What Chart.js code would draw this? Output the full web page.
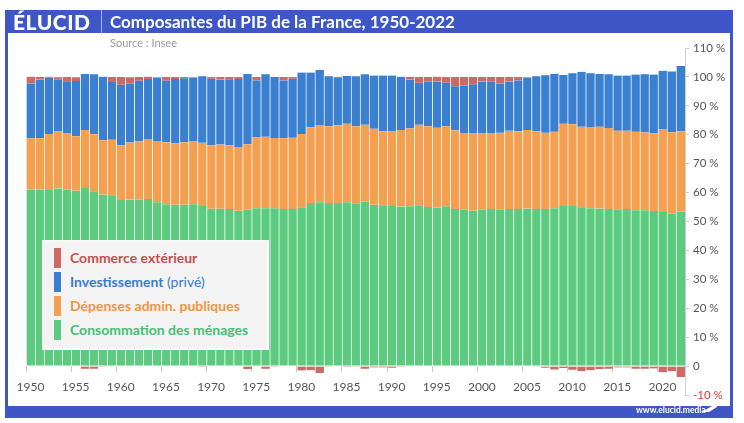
<!DOCTYPE html>
<html>
<head>
<meta charset="utf-8">
<script src="https://cdn.jsdelivr.net/npm/chart.js@4/dist/chart.umd.min.js"></script>
<style>
  body { margin: 0; width: 744px; height: 423px; background: #fff; font-family: Lato, "Open Sans", sans-serif; overflow: hidden; }
  #frame { position: absolute; left: 5px; top: 10px; width: 728px; height: 408px; background: #3f56c6; }
  #inner { position: absolute; left: 8px; top: 33px; width: 722px; height: 373px; background: #fff; }
  #chart { position: absolute; left: 8px; top: 33px; }
  #logo { position: absolute; left: 13px; top: 9px; color: #fff; font-weight: 900; font-size: 21px; letter-spacing: 0.5px; }
  #divider { position: absolute; left: 101px; top: 10px; width: 1px; height: 23px; background: rgba(255,255,255,0.55); }
  #title { position: absolute; left: 110px; top: 11px; color: #fff; font-weight: 700; font-size: 17px; }
  #source { position: absolute; left: 110px; top: 36px; color: #9a9a9a; font-size: 11px; }
  #legend { position: absolute; left: 42px; top: 240px; width: 223px; height: 106px; background: #f3f3f3; border: 2px solid #fbfbfb; }
  .row { position: absolute; left: 10px; height: 20px; line-height: 20px; font-size: 14px; font-weight: 700; white-space: nowrap; }
  .row i { display: inline-block; width: 7px; height: 20px; vertical-align: top; margin-right: 9px; }
  .row span.light { font-weight: 400; }
  #site { position: absolute; left: 636px; top: 405px; color: #fff; font-size: 8.5px; font-weight: 700; }
  #mark { position: absolute; left: 0; top: 0; }
</style>
</head>
<body>
<div id="frame"></div>
<div id="inner"></div>
<canvas id="chart" width="722" height="373"></canvas>
<div id="logo">ÉLUCID</div>
<div id="divider"></div>
<div id="title">Composantes du PIB de la France, 1950-2022</div>
<div id="source">Source : Insee</div>
<div id="legend">
  <div class="row" style="top:6px;color:#c4504e"><i style="background:#cd6a66"></i>Commerce extérieur</div>
  <div class="row" style="top:30px;color:#3a7bd0"><i style="background:#3a7fd0"></i>Investissement <span class="light">(privé)</span></div>
  <div class="row" style="top:54px;color:#f0953f"><i style="background:#f4a050"></i>Dépenses admin. publiques</div>
  <div class="row" style="top:78px;color:#45bf73"><i style="background:#5ccb7f"></i>Consommation des ménages</div>
</div>
<div id="site">www.elucid.media</div>
<svg id="mark" width="744" height="423"><polygon points="702,412 717,403 717,407 709,412" fill="#fff"/></svg>
<script>
const years = [1950, 1951, 1952, 1953, 1954, 1955, 1956, 1957, 1958, 1959,
  1960, 1961, 1962, 1963, 1964, 1965, 1966, 1967, 1968, 1969,
  1970, 1971, 1972, 1973, 1974, 1975, 1976, 1977, 1978, 1979,
  1980, 1981, 1982, 1983, 1984, 1985, 1986, 1987, 1988, 1989,
  1990, 1991, 1992, 1993, 1994, 1995, 1996, 1997, 1998, 1999,
  2000, 2001, 2002, 2003, 2004, 2005, 2006, 2007, 2008, 2009,
  2010, 2011, 2012, 2013, 2014, 2015, 2016, 2017, 2018, 2019,
  2020, 2021, 2022];

// % du PIB
const consommation = [61.1, 61.1, 60.9, 61.4, 61.0, 60.6, 61.6, 60.5, 59.3, 58.8,
  57.4, 57.6, 57.5, 57.8, 56.7, 56.0, 55.8, 55.8, 56.0, 55.4,
  54.4, 54.4, 54.3, 53.7, 54.1, 54.6, 54.6, 54.6, 54.3, 54.3,
  54.9, 56.4, 56.7, 56.4, 56.4, 56.7, 56.3, 56.8, 55.8, 55.6,
  55.4, 55.2, 55.3, 55.6, 55.0, 54.8, 55.3, 54.3, 54.1, 53.7,
  54.1, 54.3, 54.1, 54.3, 54.3, 54.5, 54.3, 54.3, 54.6, 55.4,
  55.4, 54.9, 54.6, 54.5, 54.3, 54.2, 54.3, 53.9, 53.9, 53.6,
  53.3, 52.7, 53.5];

const depenses = [17.7, 17.7, 19.4, 19.7, 19.4, 18.9, 20.0, 19.7, 18.8, 19.5,
  18.9, 19.7, 20.2, 20.7, 21.1, 21.4, 21.2, 21.6, 21.8, 21.8,
  22.0, 22.2, 22.0, 22.1, 22.6, 24.5, 24.7, 24.3, 24.5, 24.7,
  25.4, 26.1, 26.7, 26.5, 26.8, 27.1, 26.6, 26.7, 26.3, 25.6,
  25.7, 26.4, 26.9, 27.9, 27.9, 27.6, 27.6, 27.2, 26.5, 26.7,
  26.3, 26.1, 26.6, 27.1, 26.9, 27.1, 26.9, 26.4, 26.4, 28.4,
  28.2, 27.9, 28.1, 28.3, 28.0, 27.2, 27.1, 27.1, 26.9, 26.9,
  28.5, 28.2, 27.7];

const investissement = [18.9, 20.3, 19.4, 17.9, 18.1, 19.1, 19.4, 20.7, 22.0, 19.9,
  21.0, 20.4, 21.0, 20.8, 22.0, 21.3, 22.3, 22.1, 22.0, 23.0,
  23.0, 22.5, 22.9, 23.5, 24.3, 19.7, 21.6, 21.1, 20.0, 20.4,
  21.2, 19.0, 19.0, 17.3, 16.7, 16.5, 17.3, 17.4, 18.4, 19.3,
  19.4, 18.5, 16.9, 14.5, 15.4, 16.0, 15.1, 15.3, 16.4, 17.1,
  18.0, 17.9, 17.0, 17.0, 17.6, 18.2, 19.0, 19.9, 20.1, 16.9,
  17.7, 19.0, 18.6, 18.2, 18.6, 19.1, 19.1, 19.8, 20.1, 20.3,
  20.3, 21.0, 22.6];

const commerce = [2.4, 0.9, 0.4, 0.9, 1.5, 1.3, -0.9, -0.9, -0.1, 1.8,
  2.7, 2.2, 1.3, 0.8, 0.2, 1.3, 0.7, 0.5, 0.2, -0.3,
  0.6, 0.9, 0.8, 0.7, -1.0, 1.2, -0.9, -0.1, 1.2, 0.6,
  -1.5, -1.4, -2.4, -0.2, 0.2, -0.3, -0.2, -0.9, -0.5, -0.5,
  -0.6, -0.1, 0.9, 2.0, 1.7, 1.7, 2.0, 3.2, 3.0, 2.5,
  1.6, 1.7, 2.3, 1.6, 1.2, 0.2, -0.2, -0.6, -1.2, -0.7,
  -1.3, -1.8, -1.4, -1.0, -0.9, -0.5, -0.5, -0.9, -0.9, -0.8,
  -2.1, -1.8, -3.8];

const yTicks = [-10, 0, 10, 20, 30, 40, 50, 60, 70, 80, 90, 100, 110];

function serie(label, data, color) {
  return {
    label: label, data: data, backgroundColor: color, stack: 'pib',
    borderColor: 'rgba(255,255,255,0.35)', borderWidth: { left: 1, right: 0, top: 0, bottom: 0 },
    borderSkipped: false, barPercentage: 1, categoryPercentage: 1
  };
}

new Chart(document.getElementById('chart'), {
  type: 'bar',
  data: {
    labels: years,
    datasets: [
      serie('Consommation des ménages', consommation, '#5ccb7f'),
      serie('Dépenses admin. publiques', depenses, '#f4a050'),
      serie('Investissement (privé)', investissement, '#3a7fd0'),
      serie('Commerce extérieur', commerce, '#cd6a66')
    ]
  },
  options: {
    responsive: false, animation: false, devicePixelRatio: 1,
    layout: { padding: { left: 18, top: 15, right: 0, bottom: 11 } },
    plugins: { legend: { display: false }, tooltip: { enabled: false } },
    scales: {
      x: {
        stacked: true, offset: true, position: { y: 0 },
        border: { display: false },
        grid: { drawOnChartArea: false, tickLength: 6, color: (ctx) => (years[ctx.index] % 5 === 0 ? '#c8c8c8' : 'transparent') },
        ticks: {
          autoSkip: false, maxRotation: 0, padding: 8, color: '#555', font: { family: 'Lato', size: 12 },
          callback: function(v, i) { return years[i] % 5 === 0 ? String(years[i]) : ''; }
        }
      },
      y: {
        stacked: true, position: 'right', min: -10, max: 110,
        afterFit: (scale) => { scale.width = 45; },
        afterBuildTicks: (scale) => { scale.ticks = yTicks.map(v => ({ value: v })); },
        border: { display: true, color: '#cfcfcf' },
        grid: { drawOnChartArea: false, tickLength: 4, color: '#cfcfcf' },
        ticks: {
          padding: 4, font: { family: 'Lato', size: 11.5 },
          color: (ctx) => (ctx.tick.value === -10 ? '#e53935' : '#555'),
          callback: (v) => (v === 0 ? '0' : v + ' %')
        }
      }
    }
  }
});
</script>
</body>
</html>
